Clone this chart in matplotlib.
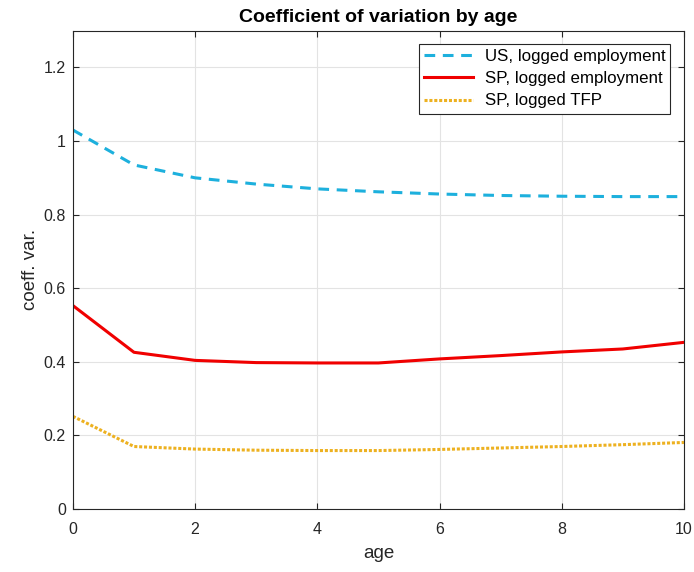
import matplotlib.pyplot as plt

plt.rcParams['font.family'] = ['Liberation Sans', 'DejaVu Sans']

age = [0, 1, 2, 3, 4, 5, 6, 7, 8, 9, 10]
us_emp = [1.030, 0.935, 0.900, 0.883, 0.870, 0.862, 0.856, 0.852, 0.850, 0.849, 0.849]
sp_emp = [0.553, 0.426, 0.404, 0.398, 0.397, 0.397, 0.408, 0.417, 0.427, 0.435, 0.453]
sp_tfp = [0.252, 0.170, 0.163, 0.160, 0.159, 0.159, 0.162, 0.166, 0.170, 0.175, 0.181]

fig = plt.figure(figsize=(6.94, 5.72), dpi=100)
ax = fig.add_axes([0.105, 0.110, 0.8805, 0.8365])

ax.plot(age, us_emp, color='#1DB0DD', linestyle=(0, (3.5, 2.5)), linewidth=2.2, label='US, logged employment')
ax.plot(age, sp_emp, color='#F00000', linestyle='-', linewidth=2.2, label='SP, logged employment')
ax.plot(age, sp_tfp, color='#EDB120', linestyle=(0, (1, 0.6)), linewidth=2.2, label='SP, logged TFP')

ax.set_xlim(0, 10)
ax.set_ylim(0, 1.3)
ax.set_xticks([0, 2, 4, 6, 8, 10])
ax.set_yticks([0, 0.2, 0.4, 0.6, 0.8, 1, 1.2])
ax.set_yticklabels(['0', '0.2', '0.4', '0.6', '0.8', '1', '1.2'])
ax.grid(True, color='#E3E3E3', linewidth=0.8)
ax.set_axisbelow(True)
ax.tick_params(direction='in', length=4, labelsize=11.5, colors='#262626', top=True, right=True)
ax.tick_params(axis='x', pad=9)
ax.tick_params(axis='y', pad=5)
for s in ax.spines.values():
    s.set_color('#262626')
    s.set_linewidth(0.8)

ax.set_title('Coefficient of variation by age', fontsize=14, fontweight='bold', pad=6)
ax.set_xlabel('age', fontsize=13.5, color='#262626', labelpad=6)
ax.set_ylabel('coeff. var.', fontsize=13.5, color='#262626', labelpad=3)

leg = ax.legend(loc='upper right', fontsize=12.2, fancybox=False, framealpha=1,
                edgecolor='#262626', handlelength=2.9, handletextpad=0.7,
                borderaxespad=0.8, labelspacing=0.42, borderpad=0.3)
leg.get_frame().set_linewidth(0.8)

fig.savefig('out.png', dpi=100)
